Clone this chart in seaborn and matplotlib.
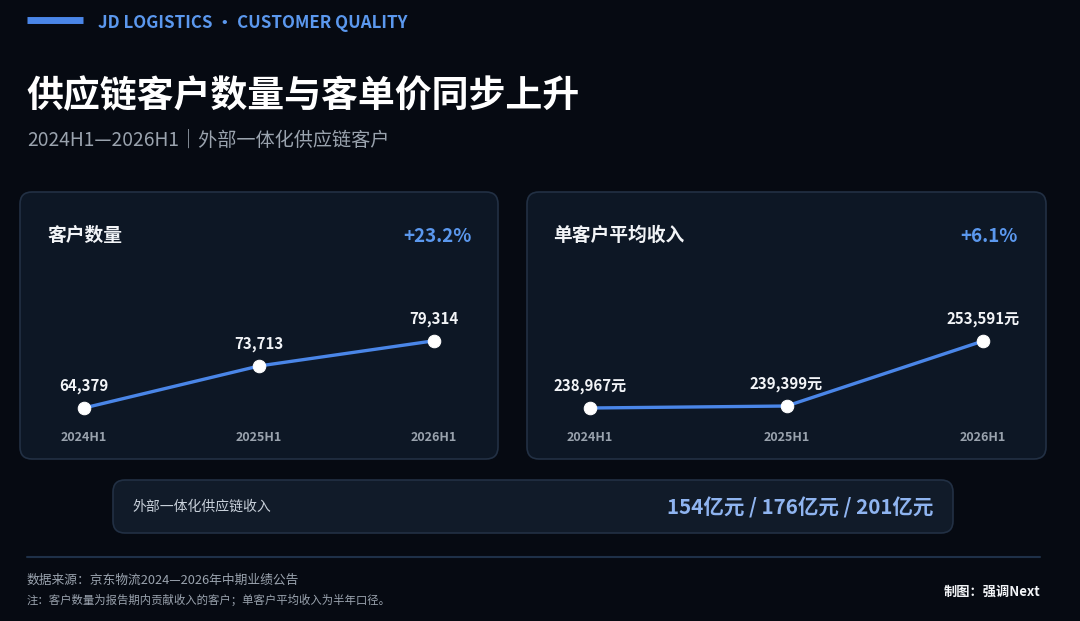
import matplotlib
matplotlib.use('Agg')

import matplotlib.pyplot as plt
import seaborn as sns
import pandas as pd
from matplotlib.patches import FancyBboxPatch

# Data
periods = ['2024H1', '2025H1', '2026H1']
customers = [64379, 73713, 79314]
revenue_per_customer = [238967, 239399, 253591]
total_revenue = [154, 176, 201]
customer_growth = '+23.2%'
revenue_growth = '+6.1%'

# Colours
BG = '#060a12'
CARD = '#0d1725'
CARD_EDGE = '#223044'
BAR = '#111b29'
BLUE = '#4a86e8'
BLUE_TEXT = '#5b98ee'
LIGHT_BLUE = '#8fb4f0'
GREY = '#9aa3ae'
WHITE = '#f2f4f7'

sns.set_theme(style='white')
plt.rcParams['font.family'] = ['Noto Sans CJK SC', 'DejaVu Sans']

W, H = 1080, 621
fig = plt.figure(figsize=(W / 100, H / 100), dpi=100, facecolor=BG)

# Background canvas in pixel coordinates
bg = fig.add_axes([0, 0, 1, 1])
bg.set_xlim(0, W)
bg.set_ylim(H, 0)
bg.axis('off')
bg.set_facecolor(BG)


def card(x0, y0, x1, y1, face, edge, r=12):
    bg.add_patch(FancyBboxPatch((x0 + r, y0 + r), (x1 - x0) - 2 * r, (y1 - y0) - 2 * r,
                                boxstyle=f'round,pad={r}', fc=face, ec=edge, lw=1.2))


# Header
bg.plot([27, 83], [20, 20], color=BLUE, lw=5, solid_capstyle='butt')
bg.text(98, 23, 'JD LOGISTICS · CUSTOMER QUALITY', color=BLUE_TEXT, fontsize=12.2,
        fontweight='bold', va='center', ha='left')
bg.text(26, 97, '供应链客户数量与客单价同步上升', color='white', fontsize=26.6,
        fontweight='bold', va='center', ha='left')
bg.text(27, 140, '2024H1—2026H1｜外部一体化供应链客户', color=GREY, fontsize=13.8,
        va='center', ha='left')

# Cards
card(20, 192, 498, 459, CARD, CARD_EDGE)
card(527, 192, 1046, 459, CARD, CARD_EDGE)
card(113, 480, 953, 533, BAR, CARD_EDGE)

bg.text(47, 235, '客户数量', color=WHITE, fontsize=13.5, fontweight='bold', va='center')
bg.text(472, 237, customer_growth, color=BLUE_TEXT, fontsize=13.5, fontweight='bold',
        va='center', ha='right')
bg.text(553, 235, '单客户平均收入', color=WHITE, fontsize=13.5, fontweight='bold', va='center')
bg.text(1018, 237, revenue_growth, color=BLUE_TEXT, fontsize=13.5, fontweight='bold',
        va='center', ha='right')


def line_panel(left_px, width_px, values, ylim, suffix=''):
    top_px, bottom_px = 300, 420
    ax = fig.add_axes([left_px / W, 1 - bottom_px / H, width_px / W, (bottom_px - top_px) / H])
    ax.patch.set_alpha(0)
    df = pd.DataFrame({'x': range(len(periods)), 'v': values})
    sns.lineplot(data=df, x='x', y='v', ax=ax, color=BLUE, lw=2.4, marker='o',
                 markersize=9, markerfacecolor='white', markeredgecolor='white', zorder=3)
    for i, v in enumerate(values):
        ax.annotate(f'{v:,}{suffix}', (i, v), xytext=(0, 16), textcoords='offset points',
                    ha='center', va='center', color=WHITE, fontsize=10.8, fontweight='bold')
    ax.set_xlim(-0.25, len(periods) - 0.75)
    ax.set_ylim(*ylim)
    ax.set_xticks(range(len(periods)), labels=periods)
    ax.tick_params(axis='x', length=0, pad=8, labelsize=9, labelcolor=GREY)
    for lbl in ax.get_xticklabels():
        lbl.set_fontweight('bold')
    ax.set_yticks([])
    ax.set_xlabel('')
    ax.set_ylabel('')
    for s in ax.spines.values():
        s.set_visible(False)
    return ax


line_panel(40.25, 437.5, customers, (61712, 88379))
line_panel(540.9, 491.25, revenue_per_customer, (236347, 262548), suffix='元')

# Bottom summary bar
bg.text(132, 507, '外部一体化供应链收入', color='#c8d0da', fontsize=10, va='center')
bg.text(933, 508, ' / '.join(f'{v}亿元' for v in total_revenue), color=LIGHT_BLUE,
        fontsize=14.8, fontweight='bold', va='center', ha='right')

# Footer
bg.plot([27, 1040], [557, 557], color='#1e3048', lw=1.5)
bg.text(27, 580, '数据来源：京东物流2024—2026年中期业绩公告', color=GREY, fontsize=9.2, va='center')
bg.text(27, 600, '注：客户数量为报告期内贡献收入的客户；单客户平均收入为半年口径。', color=GREY,
        fontsize=8.2, va='center')
bg.text(1040, 592, '制图：强调Next', color=WHITE, fontsize=9.5, fontweight='bold',
        va='center', ha='right')

fig.savefig('out.png', dpi=100, facecolor=BG)
